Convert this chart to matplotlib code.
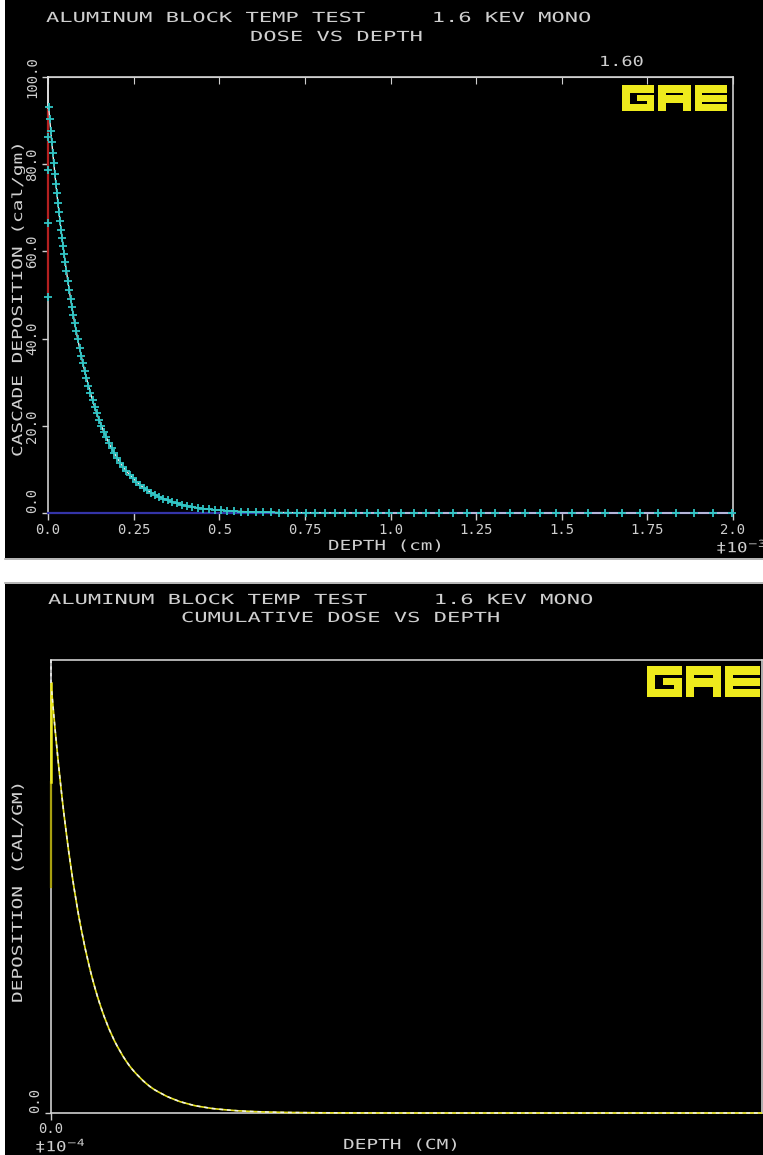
import matplotlib
matplotlib.use("Agg")
import matplotlib.pyplot as plt
import matplotlib.patheffects as pe
from matplotlib.transforms import Affine2D
from matplotlib.patches import Rectangle

# ---------------- data ----------------
# depth in units of 1e-3 cm
depth = [0.002, 0.005, 0.008, 0.011, 0.014, 0.017, 0.020, 0.023, 0.026, 0.029,
         0.032, 0.035, 0.038, 0.041, 0.044, 0.047, 0.050, 0.054, 0.058, 0.062,
         0.066, 0.070, 0.074, 0.078, 0.082, 0.087, 0.092, 0.097, 0.102, 0.107,
         0.112, 0.118, 0.124, 0.130, 0.136, 0.142, 0.149, 0.156, 0.163, 0.170,
         0.178, 0.186, 0.194, 0.202, 0.211, 0.220, 0.229, 0.238, 0.248, 0.258,
         0.268, 0.279, 0.290, 0.301, 0.313, 0.325, 0.337, 0.350, 0.363, 0.377,
         0.391, 0.406, 0.421, 0.437, 0.453, 0.470, 0.487, 0.505, 0.524, 0.543,
         0.563, 0.584, 0.606, 0.628, 0.651, 0.675, 0.700, 0.726, 0.753, 0.780,
         0.808, 0.837, 0.867, 0.898, 0.930, 0.963, 0.997, 1.032, 1.068, 1.105,
         1.143, 1.182, 1.222, 1.263, 1.305, 1.348, 1.392, 1.437, 1.483, 1.530,
         1.578, 1.627, 1.677, 1.728, 1.780, 1.833, 1.887, 1.942, 1.998]
dose = [93.1, 90.4, 87.7, 85.1, 82.6, 80.2, 77.8, 75.5, 73.3, 71.1,
        69.0, 66.9, 65.0, 63.1, 61.2, 59.4, 57.6, 55.4, 53.2, 51.1,
        49.1, 47.2, 45.3, 43.5, 41.8, 39.8, 37.9, 36.0, 34.3, 32.6,
        31.0, 29.2, 27.5, 25.9, 24.4, 23.0, 21.4, 20.0, 18.6, 17.4,
        16.0, 14.8, 13.7, 12.6, 11.5, 10.5, 9.6, 8.8, 8.0, 7.2,
        6.5, 5.8, 5.2, 4.7, 4.2, 3.7, 3.3, 2.9, 2.5, 2.2,
        1.9, 1.6, 1.4, 1.2, 1.0, 0.86, 0.73, 0.61, 0.50, 0.42,
        0.34, 0.28, 0.22, 0.18, 0.14, 0.11, 0.09, 0.07, 0.05, 0.04,
        0.03, 0.02, 0.02, 0.01, 0.01, 0.01, 0.0, 0.0, 0.0, 0.0,
        0.0, 0.0, 0.0, 0.0, 0.0, 0.0, 0.0, 0.0, 0.0, 0.0,
        0.0, 0.0, 0.0, 0.0, 0.0, 0.0, 0.0, 0.0, 0.0]
surface_dose = [49.5, 66.5, 78.7, 86.2]          # markers on the x = 0 edge
edge_red = [50.0, 93.0]                          # red edge segment at x = 0
edge_white = [93.0, 100.0]
# bottom chart: same profile, depth in units of 1e-4 cm
depth_e4 = [d * 10 for d in depth]
cum_dose = dose
cum_edge_dim = [50.0, 73.0]
cum_edge_bright = [73.0, 95.0]
cum_edge_white = [95.0, 100.0]

xticks_top = [0.0, 0.25, 0.5, 0.75, 1.0, 1.25, 1.5, 1.75, 2.0]
xticklabels_top = ["0.0", "0.25", "0.5", "0.75", "1.0", "1.25", "1.5", "1.75", "2.0"]
yticks_top = [0, 20, 40, 60, 80, 100]
yticklabels_top = ["0.0", "20.0", "40.0", "60.0", "80.0", "100.0"]

# ---------------- style ----------------
W, H = 763, 1155
MONO = "DejaVu Sans Mono"
GRAY = "#cfcfcf"
CYAN = "#2fc4c4"
YEL = "#eeea1c"


class Stretch(pe.AbstractPathEffect):
    def __init__(self, sx):
        super().__init__()
        self.sx = sx

    def draw_path(self, renderer, gc, tpath, affine, rgbFace=None):
        renderer.draw_path(gc, tpath, Affine2D().scale(self.sx, 1.0) + affine, rgbFace)


fig = plt.figure(figsize=(W / 100, H / 100), dpi=100, facecolor="white")


def fx(px):
    return px / W


def fy(py):
    return 1 - py / H


def stext(x, y, s, size=10, adv=None, rot=0, color=GRAY):
    kw = {}
    if adv is not None:
        nat = 0.602 * size * 100 / 72
        kw["path_effects"] = [Stretch(adv / nat)]
    fig.text(fx(x), fy(y), s, fontsize=size, family=MONO, color=color,
             ha="left", va="center", rotation=rot, rotation_mode="anchor", **kw)


# panel backgrounds
fig.add_artist(Rectangle((fx(5), fy(558)), fx(758), 558 / H, transform=fig.transFigure,
                         color="black", lw=0, zorder=-10))
fig.add_artist(Rectangle((fx(5), 0), fx(758), (1155 - 584) / H, transform=fig.transFigure,
                         color="black", lw=0, zorder=-10))
for yy in (559, 583):
    fig.add_artist(plt.Line2D([fx(5), 1], [fy(yy), fy(yy)], transform=fig.transFigure,
                              color="#a8a8a8", lw=1.2, zorder=-5))

# logo
G = [(0, 5.6, 10, 8), (0, 0, 2.4, 8), (0, 0, 10, 2.0), (7.6, 0, 10, 4.8), (4.5, 3.2, 10, 4.8)]
A = [(0, 5.6, 10, 8), (0, 0, 2.4, 8), (7.6, 0, 10, 8), (0, 2.6, 10, 4.8)]
E = [(0, 0, 2.4, 8), (0, 5.6, 10, 8), (0, 2.8, 10, 4.8), (0, 0, 10, 2.0)]


def logo(x0, y0, x1, y1):
    u = (x1 - x0) / 32.4
    v = (y1 - y0) / 8.0
    for li, rects in enumerate([G, A, E]):
        ox = x0 + li * 11.2 * u
        for (a, b, c, d) in rects:
            fig.add_artist(Rectangle((fx(ox + a * u), fy(y1 - b * v)), (c - a) * u / W,
                                     (d - b) * v / H, transform=fig.transFigure,
                                     color=YEL, lw=0, zorder=5))


def style_axes(ax):
    ax.set_facecolor("black")
    for sp in ax.spines.values():
        sp.set_color(GRAY)
        sp.set_linewidth(1.2)
    ax.tick_params(colors=GRAY, labelcolor=GRAY, width=1.0)
    for lab in ax.get_xticklabels() + ax.get_yticklabels():
        lab.set_family(MONO)
        lab.set_fontsize(10)


# ---------------- top chart ----------------
ax1 = fig.add_axes([fx(48), fy(513), 685 / W, 436 / H])
ax1.set_xlim(0, 2.0)
ax1.set_ylim(0, 100)
ax1.set_xticks(xticks_top, xticklabels_top)
ax1.set_yticks(yticks_top, yticklabels_top)
ax1.tick_params(axis="x", direction="out", length=5, pad=2.5)
ax1.tick_params(axis="y", direction="out", length=4, pad=2.5, labelrotation=90)
style_axes(ax1)
for lab in ax1.get_yticklabels():
    lab.set_va("center")
ax1.get_yticklabels()[0].set_va("bottom")
sec = ax1.secondary_xaxis("top")
sec.set_xticks(xticks_top)
sec.tick_params(direction="in", length=5, labeltop=False, color=GRAY)
sec.spines["top"].set_color(GRAY)

ax1.plot([0, 2.0], [0, 0], color="#3434a8", lw=1.6, zorder=3, clip_on=False)
ax1.plot([0, 0], edge_red, color="#b42020", lw=1.6, zorder=3, clip_on=False)
ax1.plot([0, 0], edge_white, color="#e0e0e0", lw=1.2, zorder=3, clip_on=False)
ax1.plot(depth, dose, color="#eeeeee", lw=1.0, zorder=4, clip_on=False)
ax1.plot(depth, dose, ls="none", marker="+", ms=6, mew=1.3, color=CYAN, zorder=5, clip_on=False)
ax1.plot([0] * len(surface_dose), surface_dose, ls="none", marker="+", ms=6, mew=1.3,
         color=CYAN, zorder=5, clip_on=False)

stext(46, 18, "ALUMINUM BLOCK TEMP TEST     1.6 KEV MONO", adv=13.3)
stext(250, 37, "DOSE VS DEPTH", adv=13.3)
stext(599, 62, "1.60", adv=11.2)
stext(328, 546, "DEPTH (cm)", adv=11.6)
stext(716, 547, "\u202110$^{-3}$", adv=10.5)
stext(18, 457, "CASCADE DEPOSITION (cal/gm)", adv=11.7, rot=90)
logo(622, 85, 727, 111)

# ---------------- bottom chart ----------------
ax2 = fig.add_axes([fx(51), fy(1113), 711 / W, 453 / H])
ax2.set_xlim(0, 20)
ax2.set_ylim(0, 100)
ax2.set_xticks([0], ["0.0"])
ax2.set_yticks([0], ["0.0"])
ax2.tick_params(axis="x", direction="out", length=5, pad=1.5)
ax2.tick_params(axis="y", direction="out", length=4, pad=2.5, labelrotation=90)
style_axes(ax2)
ax2.get_yticklabels()[0].set_va("bottom")

ax2.plot([0, 0], cum_edge_dim, color="#a8a010", lw=1.6, zorder=3, clip_on=False)
ax2.plot([0, 0], cum_edge_bright, color=YEL, lw=1.8, zorder=3, clip_on=False)
ax2.plot([0, 0], cum_edge_white, color="#e8e8e8", lw=1.2, ls=(0, (2, 2)), zorder=3, clip_on=False)
ax2.plot(depth_e4, cum_dose, color="#e6e21a", lw=1.2, zorder=4, clip_on=False)
ax2.plot(depth_e4, cum_dose, color="#f0f0f0", lw=1.1, ls=(0, (2.5, 2.5)), zorder=5, clip_on=False)

stext(48, 600, "ALUMINUM BLOCK TEMP TEST     1.6 KEV MONO", adv=13.3)
stext(181, 618, "CUMULATIVE DOSE VS DEPTH", adv=13.3)
stext(343, 1145, "DEPTH (CM)", adv=11.7)
stext(35, 1146, "\u202110$^{-4}$", adv=10.5)
stext(18, 1003, "DEPOSITION (CAL/GM)", adv=11.7, rot=90)
logo(647, 666, 760, 697)

fig.savefig("out.png", dpi=100, facecolor="white")
